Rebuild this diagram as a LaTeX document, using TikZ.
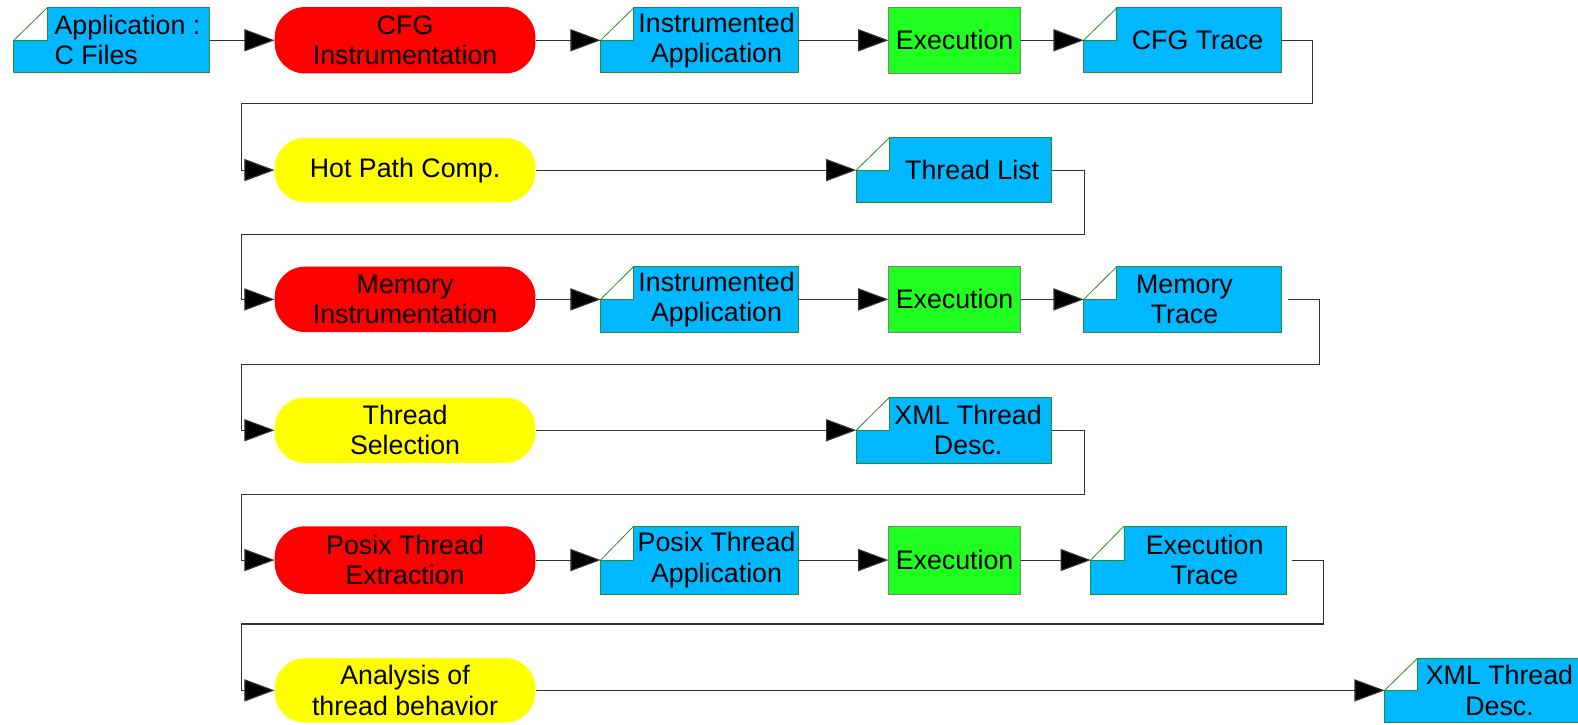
\documentclass[tikz,border=0pt]{standalone}
\usepackage{fontspec}
\setmainfont{Liberation Sans}
\usetikzlibrary{arrows.meta,fit,calc}
\definecolor{docblue}{RGB}{0,184,255}
\definecolor{exgreen}{RGB}{33,255,33}
\definecolor{docedge}{RGB}{40,140,40}
\definecolor{linegray}{RGB}{50,50,50}
\definecolor{procyellow}{RGB}{255,255,0}
\definecolor{procred}{RGB}{255,0,0}
\tikzset{
  txt/.style={font=\fontsize{26.6}{30}\selectfont, align=center, inner sep=0pt},
  proc/.style={rounded corners=30pt, minimum width=259pt, minimum height=66pt, inner sep=0pt,
     font=\fontsize{26.6}{30}\selectfont, align=center},
  execbox/.style={fill=exgreen, draw=gray, line width=0.5pt, minimum width=131pt, minimum height=66pt,
     inner sep=0pt, font=\fontsize{26.6}{30}\selectfont},
  conn/.style={draw=linegray, line width=1.1pt, -{Triangle[length=30pt,width=22pt,fill=black]}},
}
\newcommand\docnode[7]{% name, xl, yt, xr, yb, text x, text
  \node[fit={(#2,#3)(#4,#5)}, inner sep=0pt] (#1) {};
  \filldraw[fill=docblue, draw=docedge, line width=0.8pt]
    (#1.west) -- ($(#1.west)+(33,0)$) -- ($(#1.north west)+(33,0)$) -- (#1.north east)
    -- (#1.south east) -- (#1.south west) -- cycle;
  \draw[docedge, line width=0.8pt] (#1.west) -- ($(#1.north west)+(33,0)$);
  \node[txt] (#1t) at (#6,{(#3+#5)/2}) {#7};
}
\begin{document}
\begin{tikzpicture}[x=1pt,y=-1pt]
\useasboundingbox (0,0) rectangle (1568,720);
% Row 1
\docnode{a1}{14}{8}{208}{72}{114}{}
\node[txt, align=left, anchor=west] (a1text) at (54,40) {Application :\\C Files};
\node[proc, fill=procred] (a2) at (402.5,40) {CFG\\Instrumentation};
\docnode{a3}{597}{8}{793}{72}{712}{Instrumented\\Application}
\node[execbox] (a4) at (948.5,40) {Execution};
\docnode{a5}{1077}{8}{1273}{72}{1190}{CFG Trace}
% Row 2
\node[proc, fill=procyellow, minimum height=64pt] (b1) at (402.5,169) {Hot Path Comp.};
\docnode{b2}{851}{137}{1045}{201}{966}{Thread List}
% Row 3
\node[proc, fill=procred, minimum height=65pt] (c1) at (402.5,297.5) {Memory\\Instrumentation};
\docnode{c2}{597}{265}{793}{330}{712}{Instrumented\\Application}
\node[execbox, minimum height=65pt] (c3) at (948.5,297.5) {Execution};
\docnode{c4}{1077}{265}{1273}{330}{1177}{Memory\\Trace}
% Row 4
\node[proc, fill=procyellow, minimum height=65pt] (d1) at (402.5,427.5) {Thread\\Selection};
\docnode{d2}{851}{395}{1045}{460}{962}{XML Thread\\Desc.}
% Row 5
\node[proc, fill=procred, minimum height=67pt] (e1) at (402.5,556.5) {Posix Thread\\Extraction};
\docnode{e2}{597}{523}{793}{590}{712}{Posix Thread\\Application}
\node[execbox, minimum height=67pt] (e3) at (948.5,556.5) {Execution};
\docnode{e4}{1084}{523}{1278}{590}{1197}{Execution\\Trace}
% Row 6
\node[proc, fill=procyellow, minimum height=64pt] (f1) at (402.5,686) {Analysis of\\thread behavior};
\docnode{f2}{1376}{654}{1568}{718}{1490}{XML Thread\\Desc.}
% wrap coordinates
\coordinate (w1) at (240,103);
\coordinate (w2) at (240,233);
\coordinate (w3) at (240,362);
\coordinate (w4) at (240,491);
\coordinate (w5) at (240,620);
% connectors
\draw[conn] (a1.east) -- (a2.west);
\draw[conn] (a2.east) -- (a3.west);
\draw[conn] (a3.east) -- (a4.west);
\draw[conn] (a4.east) -- (a5.west);
\draw[conn] (a5.east) -- ++(31,0) |- (w1) |- (b1.west);
\draw[conn] (b1.east) -- (b2.west);
\draw[conn] (b2.east) -- ++(32,0) |- (w2) |- (c1.west);
\draw[conn] (c1.east) -- (c2.west);
\draw[conn] (c2.east) -- (c3.west);
\draw[conn] (c3.east) -- (c4.west);
\draw[conn] ([xshift=7pt]c4.east) -- ++(31,0) |- (w3) |- (d1.west);
\draw[conn] (d1.east) -- (d2.west);
\draw[conn] (d2.east) -- ++(32,0) |- (w4) |- (e1.west);
\draw[conn] (e1.east) -- (e2.west);
\draw[conn] (e2.east) -- (e3.west);
\draw[conn] (e3.east) -- (e4.west);
\draw[conn] ([xshift=6pt]e4.east) -- ++(31,0) |- (w5) |- (f1.west);
\draw[conn] (f1.east) -- (f2.west);
\end{tikzpicture}
\end{document}
